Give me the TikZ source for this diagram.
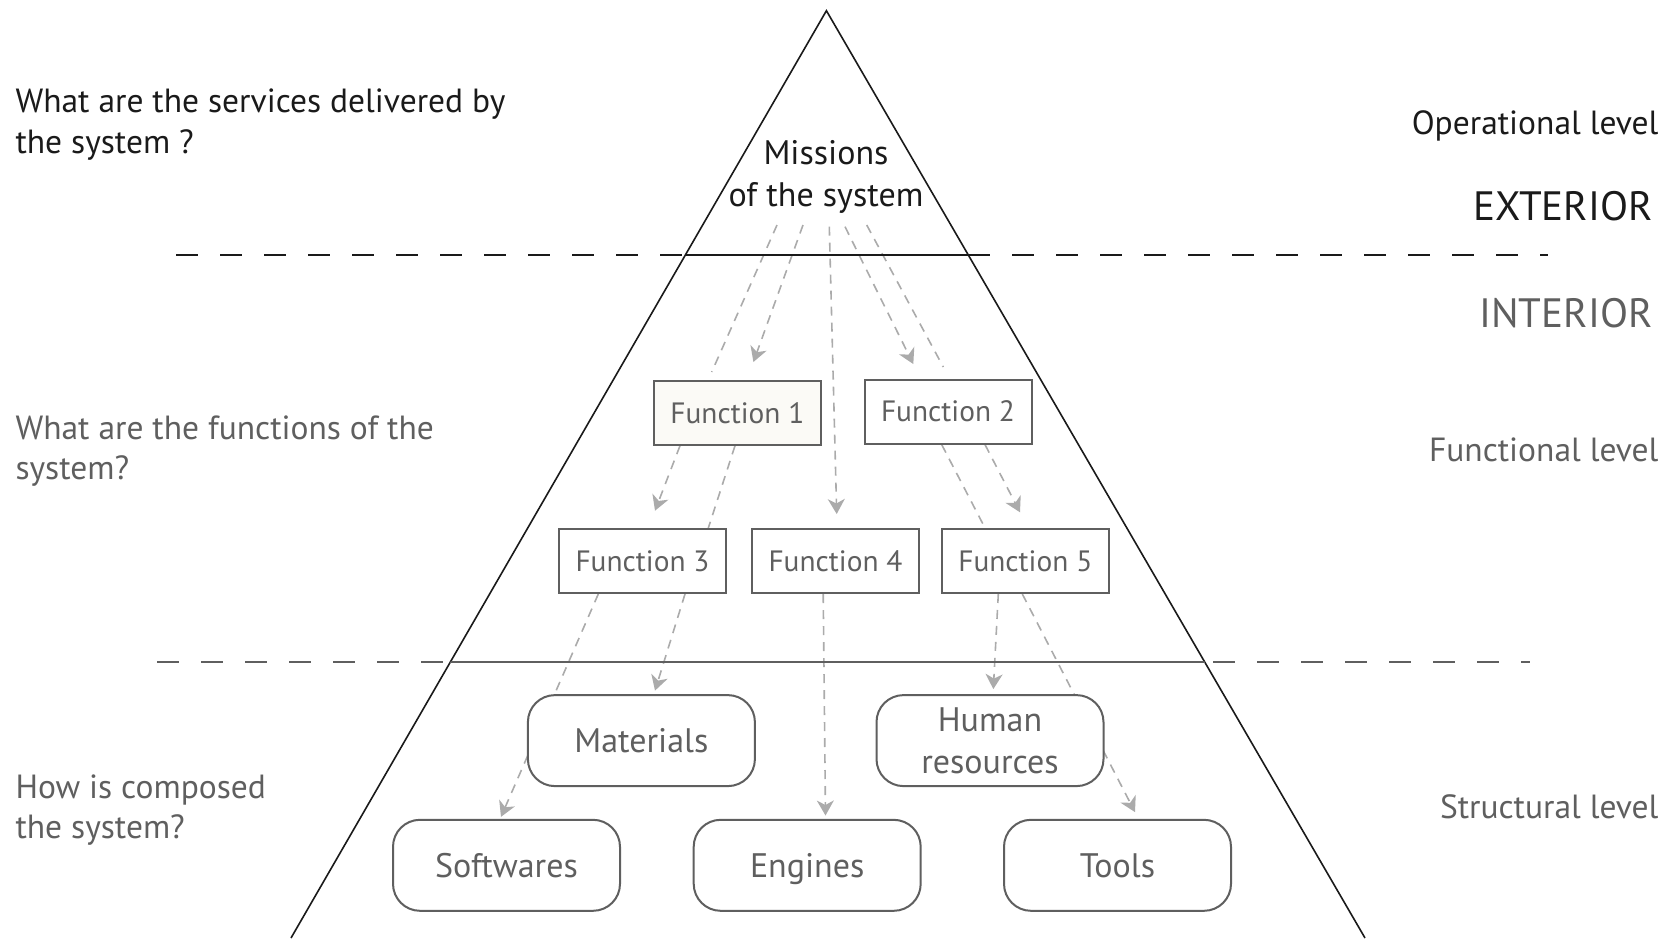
\documentclass[tikz,border=0pt]{standalone}
\usepackage{fontspec}
\setmainfont{PT Sans}
\usetikzlibrary{arrows.meta,positioning}
\definecolor{ink}{HTML}{1A1A1A}
\definecolor{mid}{HTML}{5F5F5F}
\definecolor{pale}{HTML}{ABABAB}
\definecolor{paper}{HTML}{FBFAF6}
\pgfdeclarelayer{back}
\pgfsetlayers{back,main}
\tikzset{
  funcbox/.style={draw=mid, line width=2pt, fill=white, minimum width=167pt, minimum height=64pt, inner sep=0pt, text=mid, font=\fontsize{29.4}{34}\selectfont},
  partbox/.style={funcbox, rounded corners=27pt, minimum width=227pt, minimum height=91pt, align=center, font=\fontsize{34}{41.5}\selectfont},
  link/.style={pale, line width=1.6pt, dash pattern=on 9pt off 7pt},
  arrowlink/.style={link, -{Stealth[length=15pt,width=17pt,inset=4.5pt]}},
  ques/.style={anchor=west, align=left, font=\fontsize{33.5}{40.5}\selectfont},
  lvl/.style={anchor=east, font=\fontsize{33.5}{38}\selectfont},
  zone/.style={anchor=east, font=\fontsize{41}{48}\selectfont},
}
\begin{document}
\begin{tikzpicture}[x=1pt,y=-1pt]
\useasboundingbox (0,0) rectangle (1672,938);
% pyramid and level lines
\draw[ink, line width=1.6pt] (291,938) -- (826.4,10.7) -- (1365,938);
\draw[ink, line width=1.6pt, dash pattern=on 22pt off 22pt] (176,255) -- (1548,255);
\draw[mid, line width=1.6pt, dash pattern=on 22pt off 22pt] (157,662) -- (1530,662);
\begin{scope}
\clip (291,938) -- (826.4,10.7) -- (1365,938) -- cycle;
\draw[ink, line width=1.6pt] (0,255) -- (1672,255);
\draw[mid, line width=1.6pt] (0,662) -- (1672,662);
\end{scope}
% questions and levels
\node[ques, text=ink] (q1) at (12,124.5) {What are the services delivered by\\the system ?};
\node[ques, text=mid] (q2) at (12,451) {What are the functions of the\\system?};
\node[ques, text=mid] (q3) at (12,810) {How is composed\\the system?};
\node[lvl, text=ink] (op) at (1662,126) {Operational level};
\node[lvl, text=mid] (fn) at (1662,450) {Functional level};
\node[lvl, text=mid] (st) at (1662,807) {Structural level};
\node[zone, text=ink] (ext) at (1656,206) {EXTERIOR};
\node[zone, text=mid] (int) at (1656,313.5) {INTERIOR};
% missions
\node[align=center, text=ink, font=\fontsize{34}{41.5}\selectfont] (mis) at (826,177) {Missions\\of the system};
\coordinate (fan) at (826,225);
% functions
\node[funcbox, fill=paper] (f1) at (737.4,412.7) {Function 1};
\node[funcbox] (f2) at (948,411.6) {Function 2};
\node[funcbox] (f3) at (642.5,561) {Function 3};
\node[funcbox] (f4) at (835.5,561) {Function 4};
\node[funcbox] (f5) at (1025.3,561) {Function 5};
% parts
\node[partbox] (mat) at (641.4,740.6) {Materials};
\node[partbox] (hum) at (990,740.6) {Human\\resources};
\node[partbox] (sof) at (506.5,865.3) {Softwares};
\node[partbox, text depth=0pt] (eng) at (807.2,865.3) {Engines};
\node[partbox] (too) at (1117.5,865.3) {Tools};
% links
\begin{pgfonlayer}{back}
\draw[link] ([xshift=-49pt]fan) -- ([xshift=-25.7pt,yshift=7.7pt]f1.north);
\draw[arrowlink] ([xshift=-23pt]fan) -- ([xshift=16pt,yshift=17.7pt]f1.north);
\draw[arrowlink] ([xshift=3.3pt,yshift=-1.7pt]fan) -- ([xshift=1.2pt,yshift=14pt]f4.north);
\draw[arrowlink] ([xshift=19pt,yshift=-1.7pt]fan) -- ([xshift=-34.7pt,yshift=14.6pt]f2.north);
\draw[link] ([xshift=40.7pt]fan) -- ([xshift=-4.7pt,yshift=11.6pt]f2.north);
\draw[arrowlink] ([xshift=-57.4pt]f1.south) -- ([xshift=12.5pt,yshift=17.3pt]f3.north);
\draw[link] ([xshift=-2.4pt]f1.south) -- ([xshift=65.8pt]f3.north);
\draw[link] ([xshift=-6.3pt]f2.south) -- ([xshift=-40.3pt]f5.north);
\draw[arrowlink] ([xshift=37pt]f2.south) -- ([xshift=-5.3pt,yshift=15.7pt]f5.north);
\draw[arrowlink] ([xshift=-44.2pt]f3.south) -- ([xshift=-5.5pt,yshift=2pt]sof.north);
\draw[arrowlink] ([xshift=42.5pt]f3.south) -- ([xshift=13.6pt,yshift=3.5pt]mat.north);
\draw[arrowlink] ([xshift=-12.3pt]f4.south) -- ([xshift=18.3pt,yshift=3.3pt]eng.north);
\draw[arrowlink] ([xshift=-27pt]f5.south) -- ([xshift=3.3pt,yshift=5pt]hum.north);
\draw[arrowlink] ([xshift=-3pt]f5.south) -- ([xshift=17.5pt,yshift=6.7pt]too.north);
\end{pgfonlayer}
\end{tikzpicture}
\end{document}
